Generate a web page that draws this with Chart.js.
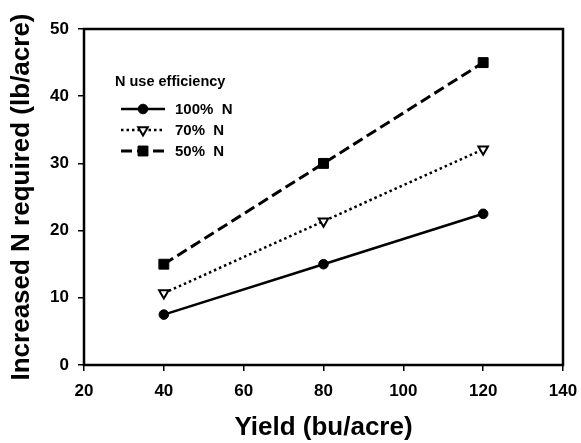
<!DOCTYPE html>
<html>
<head>
<meta charset="utf-8">
<script src="https://cdn.jsdelivr.net/npm/chart.js@4/dist/chart.umd.min.js"></script>
<style>
  html, body { margin: 0; padding: 0; background: #fff; }
  #c { display: block; }
</style>
</head>
<body>
<canvas id="c" width="581" height="443"></canvas>
<script>
// Yield levels (bu/acre)
const yieldValues = [40, 80, 120];
// Increased N required (lb/acre) at each N use efficiency
const n100 = [7.5, 15, 22.5];
const n70 = [10.7, 21.4, 32.1];
const n50 = [15, 30, 45];
const seriesLabels = ['100%  N', '70%  N', '50%  N'];
const legendTitle = 'N use efficiency';
// Axis tick labels
const xTicks = [20, 40, 60, 80, 100, 120, 140];
const yTicks = [0, 10, 20, 30, 40, 50];

const FONT = '"Liberation Sans", Arial, sans-serif';
const toPoints = vals => yieldValues.map((x, i) => ({ x: x, y: vals[i] }));

const datasets = [
  {
    label: seriesLabels[0], data: toPoints(n100),
    borderColor: '#000', borderWidth: 2.5, borderDash: [],
    pointStyle: 'circle', pointRadius: 4.8, pointBackgroundColor: '#000',
    pointBorderColor: '#000', pointBorderWidth: 1, pointRotation: 0
  },
  {
    label: seriesLabels[1], data: toPoints(n70),
    borderColor: '#000', borderWidth: 2.5, borderDash: [2.5, 3],
    pointStyle: 'triangle', pointRadius: 5.5, pointBackgroundColor: '#fff',
    pointBorderColor: '#000', pointBorderWidth: 2, pointRotation: 180
  },
  {
    label: seriesLabels[2], data: toPoints(n50),
    borderColor: '#000', borderWidth: 3, borderDash: [11, 5],
    pointStyle: 'rect', pointRadius: 7, pointBackgroundColor: '#000',
    pointBorderColor: '#000', pointBorderWidth: 1, pointRotation: 0
  }
];

// Closed frame around the plotting area
const frame = {
  id: 'frame',
  afterDatasetsDraw(chart) {
    const { ctx, chartArea: a } = chart;
    ctx.save();
    ctx.strokeStyle = '#000';
    ctx.lineWidth = 2.5;
    ctx.strokeRect(a.left, a.top, a.right - a.left, a.bottom - a.top);
    ctx.restore();
  }
};

// Legend with title, drawn inside the plotting area
const insetLegend = {
  id: 'insetLegend',
  afterDraw(chart) {
    const { ctx, chartArea: a } = chart;
    const x0 = a.left + 31;
    ctx.save();
    ctx.fillStyle = '#000';
    ctx.textBaseline = 'middle';
    ctx.textAlign = 'left';
    ctx.font = 'bold 14.5px ' + FONT;
    ctx.fillText(legendTitle, x0, a.top + 53);
    chart.data.datasets.forEach((ds, i) => {
      const y = a.top + 80 + i * 21;
      const lx0 = x0 + 6, lx1 = x0 + 50, mx = (lx0 + lx1) / 2;
      ctx.save();
      ctx.strokeStyle = ds.borderColor;
      ctx.lineWidth = ds.borderWidth;
      ctx.setLineDash(ds.borderDash);
      ctx.beginPath();
      ctx.moveTo(lx0, y);
      ctx.lineTo(lx1, y);
      ctx.stroke();
      ctx.restore();
      ctx.save();
      ctx.fillStyle = ds.pointBackgroundColor;
      ctx.strokeStyle = ds.pointBorderColor;
      ctx.lineWidth = ds.pointBorderWidth;
      Chart.helpers.drawPoint(ctx, {
        pointStyle: ds.pointStyle, radius: ds.pointRadius,
        rotation: ds.pointRotation, borderWidth: ds.pointBorderWidth
      }, mx, y);
      ctx.restore();
      ctx.fillStyle = '#000';
      ctx.font = 'bold 15px ' + FONT;
      ctx.fillText(ds.label, x0 + 60, y + 1);
    });
    ctx.restore();
  }
};

new Chart(document.getElementById('c'), {
  type: 'scatter',
  data: { datasets: datasets.map(d => Object.assign({ showLine: true, fill: false, tension: 0 }, d)) },
  options: {
    responsive: false,
    animation: false,
    layout: { padding: { left: 0, right: 18, top: 29, bottom: 0 } },
    plugins: { legend: { display: false }, tooltip: { enabled: false } },
    scales: {
      x: {
        type: 'linear', min: 20, max: 140,
        afterBuildTicks: s => { s.ticks = xTicks.map(v => ({ value: v })); },
        afterFit: s => { s.height = 78; s.paddingLeft = 0; s.paddingRight = 0; },
        border: { display: false },
        grid: { display: true, drawOnChartArea: false, drawTicks: true, tickLength: 6, color: '#000', lineWidth: 1.5 },
        ticks: { color: '#000', padding: 10, maxRotation: 0, font: { family: FONT, size: 17, weight: 'bold' } },
        title: { display: true, text: 'Yield (bu/acre)', color: '#000', padding: { top: 0, bottom: 0 },
                 font: { family: FONT, size: 26, weight: 'bold' } }
      },
      y: {
        type: 'linear', min: 0, max: 50,
        afterBuildTicks: s => { s.ticks = yTicks.map(v => ({ value: v })); },
        afterFit: s => { s.width = 84; s.paddingTop = 0; s.paddingBottom = 0; },
        border: { display: false },
        grid: { display: true, drawOnChartArea: false, drawTicks: true, tickLength: 6, color: '#000', lineWidth: 1.5 },
        ticks: { color: '#000', padding: 9, font: { family: FONT, size: 17, weight: 'bold' } },
        title: { display: true, text: 'Increased N required (lb/acre)', color: '#000', padding: { top: 6, bottom: 0 },
                 font: { family: FONT, size: 26, weight: 'bold' } }
      }
    }
  },
  plugins: [frame, insetLegend]
});
</script>
</body>
</html>
